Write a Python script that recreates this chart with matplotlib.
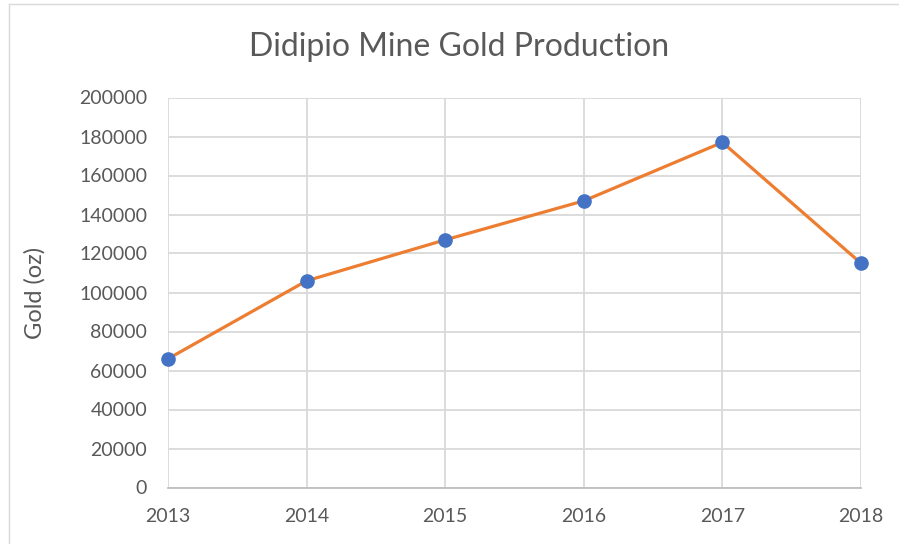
import matplotlib
matplotlib.use("Agg")
import matplotlib.pyplot as plt
from matplotlib.lines import Line2D

# 数据
years = ["2013", "2014", "2015", "2016", "2017", "2018"]
gold_oz = [66000, 106000, 127000, 147000, 177000, 115000]
y_ticks = [0, 20000, 40000, 60000, 80000, 100000, 120000, 140000, 160000, 180000, 200000]

plt.rcParams['font.family'] = ['Lato', 'DejaVu Sans']
text_color = '#595959'
grid_color = '#D9D9D9'

fig = plt.figure(figsize=(8.99, 5.44), dpi=100)
ax = fig.add_axes([168 / 899, 1 - 487.5 / 544, (861 - 168) / 899, (487.5 - 97.5) / 544])

x = list(range(len(years)))
ax.plot(x, gold_oz, color='#ED7D31', linewidth=2.3, zorder=3)
ax.plot(x, gold_oz, linestyle='none', marker='o', markersize=9.5,
        markerfacecolor='#4472C4', markeredgecolor='#4472C4', zorder=4, clip_on=False)

ax.set_xlim(0, len(years) - 1)
ax.set_ylim(0, 200000)
ax.set_xticks(x)
ax.set_xticklabels(years)
ax.set_yticks(y_ticks)
ax.set_yticklabels([str(v) for v in y_ticks])

# 网格线
ax.grid(True, color=grid_color, linewidth=1.3)
ax.set_axisbelow(True)
for side in ['top', 'right', 'left']:
    ax.spines[side].set_visible(False)
ax.spines['bottom'].set_color('#BFBFBF')
ax.spines['bottom'].set_linewidth(1.3)

ax.tick_params(axis='both', length=0, labelsize=14, colors=text_color)
ax.tick_params(axis='x', pad=15)
ax.tick_params(axis='y', pad=15)

ax.set_ylabel("Gold (oz)", fontsize=17, color=text_color)
ax.yaxis.set_label_coords((46 - 168) / 693, 0.5)
fig.text(459 / 899, 1 - 47 / 544, "Didipio Mine Gold Production",
         ha='center', va='center', fontsize=23, color=text_color)

# 图表外框
fig.add_artist(Line2D([8.5 / 899, 8.5 / 899], [0, 1 - 4 / 544], transform=fig.transFigure,
                      color='#D9D9D9', linewidth=1))
fig.add_artist(Line2D([8.5 / 899, 1], [1 - 4 / 544, 1 - 4 / 544], transform=fig.transFigure,
                      color='#D9D9D9', linewidth=1))

fig.savefig("out.png", dpi=100)
